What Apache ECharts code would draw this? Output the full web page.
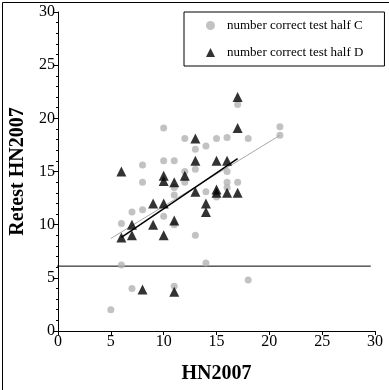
<!DOCTYPE html>
<html>
<head>
<meta charset="utf-8">
<script src="https://cdn.jsdelivr.net/npm/echarts@6/dist/echarts.min.js"></script>
<style>
html,body{margin:0;padding:0;background:#fff;}
#chart{width:389px;height:390px;}
</style>
</head>
<body>
<div id="chart"></div>
<script>
// Series C (grey circles)
const cX = [5, 6, 6, 7, 7, 8, 8, 8, 10, 10, 10, 11, 11, 11, 11, 11, 12, 12, 12, 13, 13, 13, 14, 14, 14, 15, 15, 16, 16, 16, 16, 17, 17, 18, 18, 21, 21];
const cY = [2, 6.2, 10.1, 4, 11.2, 11.4, 14, 15.6, 10.8, 16, 19.1, 16, 13.5, 12.8, 10, 4.2, 18.1, 15, 14, 17.1, 15.2, 9, 17.4, 13.1, 6.4, 18.1, 12.6, 18.2, 15, 14, 13.5, 14, 21.3, 18.1, 4.8, 19.2, 18.4];
// Series D (black triangles)
const dX = [6, 6, 7, 7, 8, 9, 9, 10, 10, 10, 10, 11, 11, 11, 12, 13, 13, 13, 14, 14, 15, 15, 15, 16, 16, 17, 17, 17];
const dY = [15, 8.8, 10, 9, 3.9, 12, 10, 14.1, 14.6, 12, 9, 14, 10.4, 3.7, 14.6, 18.1, 16, 13.1, 12, 11.2, 16, 13.3, 13, 16, 13, 22, 19.1, 13];
// Trend lines
const cTrendX = [5, 21];
const cTrendY = [8.7, 18.4];
const dTrendX = [6, 17];
const dTrendY = [8.8, 16.2];
// Horizontal reference line
const refX = [-0.8, 29.6];
const refY = [6.1, 6.1];
// Axis ticks
const xTicks = [0, 5, 10, 15, 20, 25, 30];
const yTicks = [0, 5, 10, 15, 20, 25, 30];

const nameC = 'number correct test half C';
const nameD = 'number correct test half D';
const zip = (xs, ys) => xs.map((x, i) => [x, ys[i]]);
const serif = '"Liberation Serif", "DejaVu Serif", serif';

const chart = echarts.init(document.getElementById('chart'), null, {renderer: 'canvas'});
const axisCommon = {
  min: 0, max: 30, interval: 5,
  axisLine: {show: true, onZero: false, lineStyle: {color: '#000', width: 1}},
  axisTick: {show: true, inside: false, length: 4, lineStyle: {color: '#000'}},
  splitLine: {show: false},
  axisLabel: {color: '#000', fontFamily: serif, fontSize: 16, margin: 3},
  nameTextStyle: {color: '#000', fontFamily: serif, fontSize: 20, fontWeight: 'bold'},
  nameLocation: 'middle'
};
chart.setOption({
  animation: false,
  backgroundColor: '#fff',
  graphic: [{
    type: 'rect', left: 0, top: 0,
    shape: {x: 0.5, y: 0.5, width: 388, height: 389},
    style: {fill: 'none', stroke: '#000', lineWidth: 1}, silent: true
  }],
  grid: {left: 54, right: 14, top: 12, bottom: 59, containLabel: false},
  legend: {
    left: 184, top: 12, orient: 'vertical',
    backgroundColor: '#fff',
    borderColor: '#000', borderWidth: 1, borderRadius: 0,
    padding: [7, 21, 7, 22], itemGap: 14,
    itemWidth: 9, itemHeight: 9,
    textStyle: {color: '#000', fontFamily: serif, fontSize: 13, padding: [0, 0, 0, 7]},
    data: [{name: nameC, icon: 'circle', itemStyle: {color: '#b3b3b3'}},
           {name: nameD, icon: 'triangle', itemStyle: {color: '#000'}}]
  },
  xAxis: Object.assign({}, axisCommon, {
    type: 'value', name: 'HN2007', nameGap: 33,
    axisLabel: Object.assign({}, axisCommon.axisLabel, {
      customValues: xTicks
    })
  }),
  yAxis: Object.assign({}, axisCommon, {
    type: 'value', name: 'Retest HN2007', nameGap: 30,
    minorTick: {show: true, splitNumber: 5, length: 2, lineStyle: {color: '#000'}},
    minorSplitLine: {show: false}
  }),
  series: [
    {
      name: 'ref', type: 'line', data: zip(refX, refY), symbol: 'none', clip: false,
      lineStyle: {color: '#000', width: 1}, silent: true, z: 1
    },
    {
      name: nameC, type: 'scatter', data: zip(cX, cY), symbol: 'circle', symbolSize: 7,
      itemStyle: {color: '#b3b3b3'}, z: 2
    },
    {
      name: 'trendC', type: 'line', data: zip(cTrendX, cTrendY), symbol: 'none',
      lineStyle: {color: '#a8a8a8', width: 1}, z: 3
    },
    {
      name: nameD, type: 'scatter', data: zip(dX, dY), symbol: 'triangle', symbolSize: [10, 10],
      itemStyle: {color: '#000'}, z: 4
    },
    {
      name: 'trendD', type: 'line', data: zip(dTrendX, dTrendY), symbol: 'none',
      lineStyle: {color: '#000', width: 1.5}, z: 5
    }
  ]
});
</script>
</body>
</html>
